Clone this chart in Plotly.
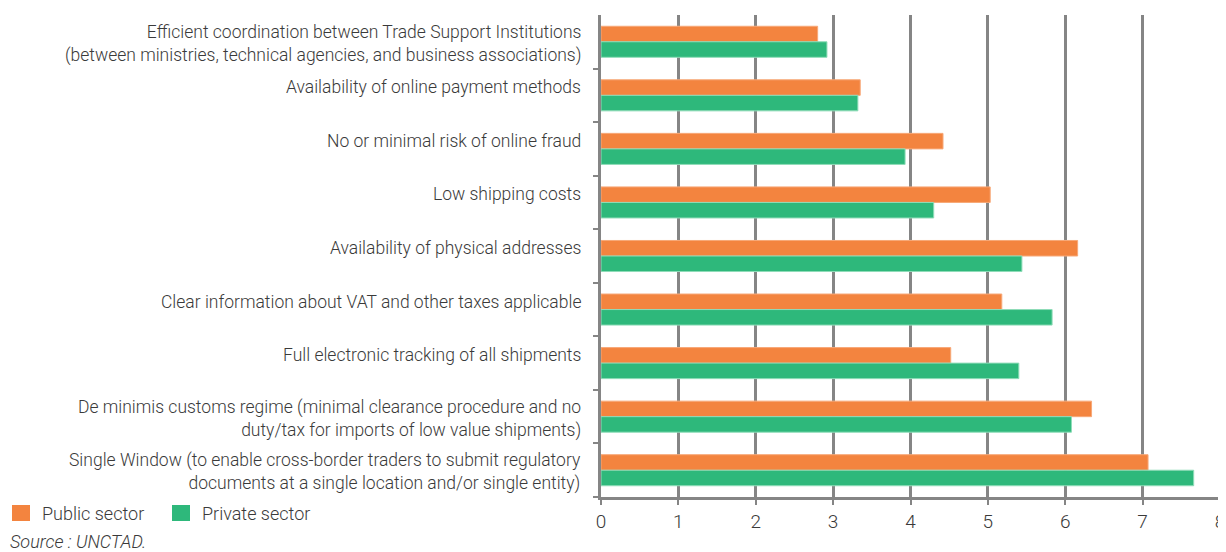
import plotly.graph_objects as go

categories = [
    "Efficient coordination between Trade Support Institutions<br>(between ministries, technical agencies, and business associations)",
    "Availability of online payment methods",
    "No or minimal risk of online fraud",
    "Low shipping costs",
    "Availability of physical addresses",
    "Clear information about VAT and other taxes applicable",
    "Full electronic tracking of all shipments",
    "De minimis customs regime (minimal clearance procedure and no<br>duty/tax for imports of low value shipments)",
    "Single Window (to enable cross-border traders to submit regulatory<br>documents at a single location and/or single entity)",
]
public_sector = [2.80, 3.35, 4.42, 5.03, 6.16, 5.18, 4.52, 6.34, 7.07]
private_sector = [2.92, 3.32, 3.93, 4.30, 5.44, 5.83, 5.40, 6.08, 7.66]
series_names = ["Public sector", "Private sector"]
x_ticks = [0, 1, 2, 3, 4, 5, 6, 7, 8]

FONT = "Roboto, Liberation Sans, sans-serif"
TXT = "#3a3a3a"
GRID = "#858585"
ORANGE = "#F3843F"
GREEN = "#2EB87B"

# page body has an 8px margin; figure coordinates = screen coordinates - OFF
OFF = 8
W, H = 1226 - OFF, 552 - OFF
L = 601 - OFF
T = 15 - OFF
PLOT_RIGHT = 1220 - OFF
PLOT_BOTTOM = 497 - OFF
R = W - PLOT_RIGHT
B = H - PLOT_BOTTOM
PW, PH = W - L - R, H - T - B


def px_x(px):
    return (px - OFF - L) / PW


def px_y(py):
    return (PLOT_BOTTOM - (py - OFF)) / PH


ypos = list(range(len(categories)))

fig = go.Figure()
fig.add_trace(go.Bar(
    y=ypos, x=public_sector, orientation="h", name=series_names[0],
    marker=dict(color=ORANGE, line=dict(color="#F7A878", width=1)),
))
fig.add_trace(go.Bar(
    y=ypos, x=private_sector, orientation="h", name=series_names[1],
    marker=dict(color=GREEN, line=dict(color="#8FDCB8", width=1)),
))

for i, c in enumerate(categories):
    two = "<br>" in c
    fig.add_annotation(
        xref="paper", yref="y", x=0, y=i, xanchor="right", yanchor="middle",
        xshift=-18, yshift=(-2 if two else 8), text=c, showarrow=False,
        align="right", font=dict(family=FONT, size=17.5, color=TXT, weight=300),
    )

# gridline at the right end of the axis range
fig.add_shape(type="line", xref="x", yref="paper", x0=x_ticks[-1], x1=x_ticks[-1],
              y0=0, y1=1, line=dict(color=GRID, width=2.5), layer="below")

# manual legend
for (sx, tx), name, col in zip([(12, 40), (172, 200)], series_names, [ORANGE, GREEN]):
    fig.add_shape(type="rect", xref="paper", yref="paper",
                  x0=px_x(sx), x1=px_x(sx + 18), y0=px_y(521), y1=px_y(505),
                  fillcolor=col, line=dict(width=0))
    fig.add_annotation(xref="paper", yref="paper", x=px_x(tx), y=px_y(513),
                       xanchor="left", yanchor="middle", text=name, showarrow=False,
                       font=dict(family=FONT, size=18, color=TXT, weight=300))

fig.add_annotation(
    xref="paper", yref="paper", x=px_x(8), y=px_y(541), xanchor="left", yanchor="middle",
    text="<i>Source : UNCTAD.</i>", showarrow=False,
    font=dict(family=FONT, size=18, color=TXT, weight=300),
)

n = len(categories)
fig.update_layout(
    width=W, height=H,
    margin=dict(l=L, r=R, t=T, b=B, autoexpand=False),
    plot_bgcolor="white", paper_bgcolor="white",
    barmode="group", bargap=0.42, bargroupgap=0.0,
    font=dict(family=FONT, size=18, color=TXT),
    showlegend=False,
    xaxis=dict(
        range=[0, 8], tickvals=x_ticks, showgrid=True, gridcolor=GRID, gridwidth=2.5,
        showline=True, linecolor=GRID, linewidth=2.5, ticks="outside", ticklen=5,
        tickcolor=GRID, tickwidth=2, zeroline=False, ticklabeloverflow="allow",
        tickfont=dict(family=FONT, size=19, color=TXT, weight=300),
    ),
    yaxis=dict(
        range=[n - 0.5, -0.5], tickvals=[i + 0.5 for i in range(n)],
        showticklabels=False, showgrid=False, zeroline=False,
        showline=True, linecolor=GRID, linewidth=2.5, ticks="outside",
        ticklen=5, tickcolor=GRID, tickwidth=2,
    ),
)

fig.write_html("out.html")
